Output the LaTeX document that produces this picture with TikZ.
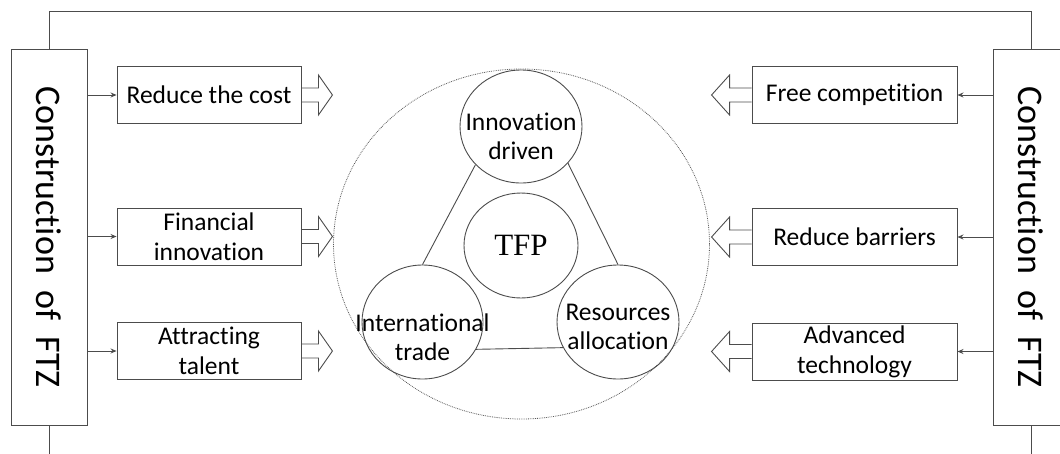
\documentclass[tikz,border=0pt]{standalone}
\usepackage{fontspec}
\setmainfont{Carlito}[Ligatures=NoCommon]
\newfontfamily\tnr{Liberation Serif}
\usetikzlibrary{arrows.meta,shapes.geometric,calc}
\begin{document}
\begin{tikzpicture}[x=1pt,y=-1pt,
  ln/.style={draw=black!70, line width=0.9pt},
  bigbox/.style={ln, rectangle, rotate=-90, minimum width=376pt, minimum height=76pt, inner sep=0pt, font=\fontsize{36}{43}\selectfont},
  sbox/.style={ln, rectangle, minimum height=57pt, inner sep=0pt, align=center, font=\fontsize{25.5}{30}\selectfont},
  lbox/.style={sbox, minimum width=184pt},
  rbox/.style={sbox, minimum width=205pt},
  circ/.style={ln, ellipse, inner sep=0pt},
  ctext/.style={align=center, font=\fontsize{25.5}{29}\selectfont, inner sep=0pt},
  thin arrow/.style={ln, -{Stealth[length=6pt,width=5pt]}},
  rarrow/.pic={\draw[ln, line join=miter] (0,-7) -- (17,-7) -- (17,-20) -- (31,0) -- (17,20) -- (17,7) -- (0,7);},
  larrow/.pic={\draw[ln, line join=miter] (0,-7) -- (-22,-7) -- (-22,-20) -- (-40,0) -- (-22,20) -- (-22,7) -- (0,7);}
]
\useasboundingbox (0,0) rectangle (1060,453);
\coordinate (topc) at (0,11);
\coordinate (botc) at (0,460);

% side boxes
\node[bigbox] (ftzL) at (49,237) {Construction\ \ of\ \ FTZ};
\node[bigbox] (ftzR) at (1031,237) {Construction\ \ of\ \ FTZ};

\draw[ln] (ftzL.west) -- (ftzL.west |- topc) -- (ftzR.west |- topc) -- (ftzR.west);
\draw[ln] (ftzL.east) -- (ftzL.east |- botc);
\draw[ln] (ftzR.east) -- (ftzR.east |- botc);

% left boxes
\node[lbox] (rc) at (209,95) {Reduce the cost};
\node[lbox] (fi) at (209,236.5) {Financial\\innovation};
\node[lbox] (at) at (209,351) {Attracting\\talent};
% right boxes
\node[rbox] (fc) at (854.5,95) {Free competition};
\node[rbox] (rb) at (854.5,237) {Reduce barriers};
\node[rbox] (ad) at (854.5,351.5) {Advanced\\technology};

\foreach \b in {rc,fi,at} {
  \draw[thin arrow] (\b.west -| ftzL.north) -- (\b.west);
  \pic at (\b.east) {rarrow};
}
\foreach \b in {fc,rb,ad} {
  \draw[thin arrow] (\b.east -| ftzR.south) -- (\b.east);
  \pic at (\b.west) {larrow};
}

% central part
\node[draw=black!65, densely dotted, line width=0.8pt, ellipse, minimum width=376pt, minimum height=350pt] (big) at (521.5,244) {};
\node[circ, minimum width=122pt, minimum height=113pt,
  label={[ctext, yshift=-10pt]center:Innovation\\driven}] (inno) at (521,126.5) {};
\node[circ, minimum width=114pt, minimum height=105pt, font=\tnr\fontsize{31}{36}\selectfont] (tfp) at (521,245.5) {TFP};
\node[circ, minimum width=121pt, minimum height=114pt,
  label={[ctext, yshift=-15pt]center:International\\trade}] (intl) at (422.5,322) {};
\node[circ, minimum width=122pt, minimum height=114pt,
  label={[ctext, yshift=-5pt]center:Resources\\allocation}] (res) at (618,322) {};

\draw[ln] (inno.220) -- (intl.north);
\draw[ln] (inno.322) -- (res.north);
\draw[ln] (intl.333) -- (res.205);
\end{tikzpicture}
\end{document}
